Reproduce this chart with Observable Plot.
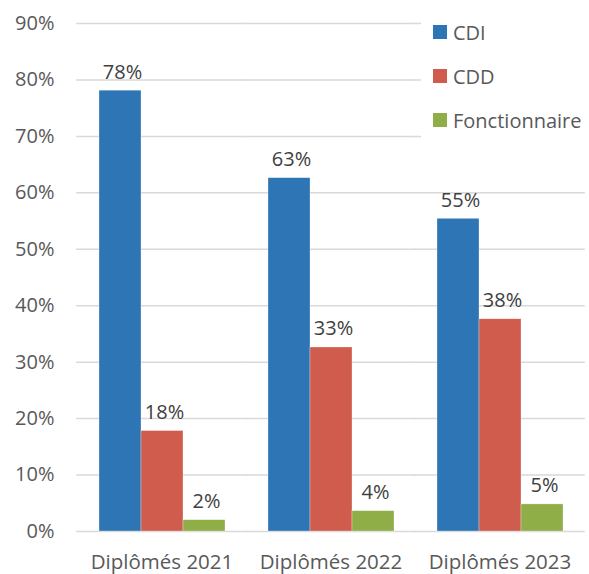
<!DOCTYPE html>
<html>
<head>
<meta charset="utf-8">
<script src="https://cdn.jsdelivr.net/npm/d3@7"></script>
<script src="https://cdn.jsdelivr.net/npm/@observablehq/plot@0.6"></script>
<style>
  html, body { margin: 0; padding: 0; background: #fff; }
  #wrap { position: relative; width: 589px; height: 574px; font-family: "Open Sans", sans-serif; }
  #legend { position: absolute; left: 421px; top: 0; width: 168px; height: 146px; background: #fff; }
  .item { position: absolute; left: 12px; display: flex; align-items: center; height: 24px; font-size: 20px; color: #595959; white-space: nowrap; }
  .sw { width: 14px; height: 14px; margin-right: 6px; }
</style>
</head>
<body>
<div id="wrap"></div>
<script>
const categories = ["Diplômés 2021", "Diplômés 2022", "Diplômés 2023"];
const series = ["CDI", "CDD", "Fonctionnaire"];
const cdi = [78.1, 62.6, 55.4];
const cdd = [17.8, 32.6, 37.6];
const fonctionnaire = [2.0, 3.6, 4.8];
const yTicks = [0, 10, 20, 30, 40, 50, 60, 70, 80, 90];
const colors = ["#2E75B6", "#D05C4E", "#8FAE47"];

const seriesValues = [cdi, cdd, fonctionnaire];
const data = [];
categories.forEach((c, i) => {
  series.forEach((s, j) => {
    data.push({category: c, series: s, value: seriesValues[j][i]});
  });
});

const chart = Plot.plot({
  width: 589,
  height: 574,
  marginLeft: 76,
  marginRight: 4,
  marginTop: 23,
  marginBottom: 43,
  style: {fontFamily: "Open Sans", fontSize: "20px", color: "#595959", background: "#fff"},
  fx: {domain: categories, padding: 0, label: null},
  x: {domain: series, paddingInner: 0, paddingOuter: 0.5, axis: null},
  y: {domain: [0, 90], label: null},
  color: {domain: series, range: colors},
  marks: [
    Plot.gridY(yTicks, {stroke: "#D9D9D9", strokeOpacity: 1, strokeWidth: 1.5, strokeLinecap: "square"}),
    Plot.barY(data, {fx: "category", x: "series", y: "value", fill: "series", stroke: "#ffffff", strokeWidth: 0.5, strokeOpacity: 0.6}),
    Plot.text(data, {fx: "category", x: "series", y: "value", text: d => Math.round(d.value) + "%", lineAnchor: "bottom", dy: -12, dx: 2, fill: "#404040", fontSize: 20}),
    Plot.axisY({ticks: yTicks, tickFormat: d => d + "%", tickSize: 0, tickPadding: 23, label: null, fontSize: 20}),
    Plot.axisFx({anchor: "bottom", tickSize: 0, tickPadding: 23, label: null, fontSize: 20.5})
  ]
});
chart.style.position = "absolute";
chart.style.left = "0";
chart.style.top = "0";
document.getElementById("wrap").appendChild(chart);

const legend = document.createElement("div");
legend.id = "legend";
series.forEach((s, i) => {
  const item = document.createElement("div");
  item.className = "item";
  item.style.top = (20 + i * 44) + "px";
  const sw = document.createElement("span");
  sw.className = "sw";
  sw.style.background = colors[i];
  const t = document.createElement("span");
  t.textContent = s;
  item.appendChild(sw);
  item.appendChild(t);
  legend.appendChild(item);
});
document.getElementById("wrap").appendChild(legend);
</script>
</body>
</html>
